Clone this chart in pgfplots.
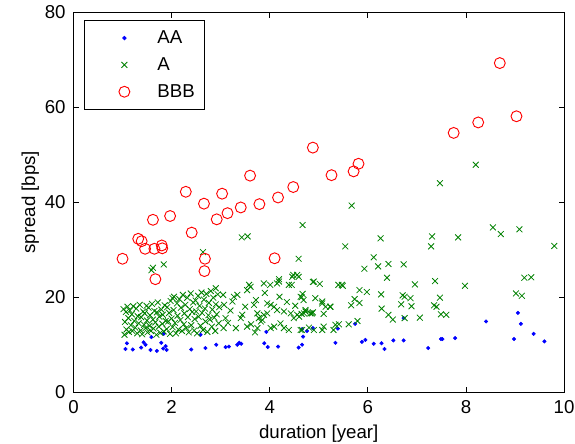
\documentclass[border=0pt]{standalone}
\usepackage{pgfplots}
\pgfplotsset{compat=1.18}
\usepackage{fontspec}
\setmainfont{Liberation Sans}
\definecolor{mgreen}{rgb}{0,0.5,0}
\begin{document}
\begin{tikzpicture}
\begin{axis}[name=ax,
  scale only axis, width=368pt, height=285pt,
  xmin=0, xmax=10, ymin=0, ymax=80,
  xtick={0,2,...,10}, ytick={0,20,...,80},
  tick align=inside, major tick length=4pt,
  axis line style={line width=0.8pt},
  every tick/.style={black, line width=0.6pt},
  /pgf/number format/assume math mode=true,
  tick label style={font=\fontsize{14}{16}\selectfont},
  label style={font=\fontsize{14}{16}\selectfont},
  xticklabel style={yshift=-2.6pt},
  yticklabel style={xshift=-2.4pt},
  xlabel={duration [year]}, ylabel={spread [bps]},
  xlabel style={yshift=-1.5pt},
  ylabel shift=-2.5pt,
  legend style={at={(0,1)}, anchor=north west, xshift=8.1pt, yshift=-5.5pt,
    draw=black, line width=0.6pt, font=\fontsize{14}{16}\selectfont,
    row sep=5pt, inner xsep=0pt, inner ysep=6pt,
    cells={anchor=west, text width=33pt}},
  legend image code/.code={\path (0pt,0pt) (52pt,0pt); \draw[#1] plot coordinates {(29.5pt,0pt)};},
]
\addplot[only marks, mark=*, blue, mark size=1.3pt] coordinates {
(1.06,9.1) (1.09,10.3) (1.21,9.0) (1.38,9.4) (1.43,10.5) (1.47,10.0) (1.57,8.9) (1.59,11.6)
(1.70,8.7) (1.79,10.4) (1.83,9.2) (1.84,12.3) (1.88,9.7) (1.90,8.9) (2.40,9.0) (2.59,12.1)
(2.69,9.3) (2.91,10.0) (3.10,9.5) (3.17,9.6) (3.34,10.0) (3.38,10.4) (3.42,10.2) (3.89,10.3)
(3.93,12.7) (3.96,9.5) (4.17,9.6) (4.59,9.4) (4.66,10.0) (4.68,11.7) (4.66,13.3) (4.76,12.9)
(4.88,13.5) (5.39,13.4) (5.74,14.4) (5.34,10.4) (5.88,10.6) (5.95,11.0) (6.12,10.2) (6.28,10.3)
(6.34,9.1) (6.52,10.9) (6.73,10.9) (6.73,15.6) (7.23,9.3) (7.49,11.2) (7.52,11.2) (7.78,11.4)
(8.41,14.9) (8.98,11.2) (9.06,16.7) (9.12,14.4) (9.38,12.3) (9.60,10.7)
};
\addlegendentry{AA}
\addplot[only marks, mark=x, mgreen, mark size=3.1pt, mark options={line width=0.6pt}] coordinates {
(1.59,25.7) (1.62,26.2) (1.84,26.9) (2.64,29.5) (3.43,32.6) (3.55,32.8) (4.19,23.8) (4.48,24.7)
(4.59,24.3) (4.59,28.1) (4.67,35.2) (5.54,30.7) (5.67,39.3) (6.26,32.4) (7.31,32.8) (7.29,30.7)
(7.47,44.0) (7.84,32.6) (8.20,47.9) (8.55,34.7) (8.71,33.3) (9.09,34.3) (9.80,30.8) (6.12,28.4)
(5.93,26.0) (6.21,26.5) (6.42,27.0) (6.73,26.9) (6.39,24.1) (4.88,23.2) (5.02,22.8) (5.49,22.4)
(6.96,22.7) (7.37,23.4) (7.98,22.4) (9.19,24.1) (9.33,24.2) (9.02,20.8) (9.14,20.3) (5.83,21.5)
(5.98,21.1) (6.27,20.6) (6.71,20.4) (6.75,20.1) (6.87,19.8) (4.67,20.7) (4.65,20.0) (4.93,19.8)
(5.07,19.1) (5.23,18.0) (5.14,18.0) (5.73,19.6) (5.66,18.3) (5.83,18.8) (6.68,18.5) (6.89,18.1)
(7.47,19.9) (7.35,18.3) (7.40,18.0) (4.73,17.3) (4.88,16.8) (4.65,16.5) (5.10,16.5) (4.60,15.9)
(6.28,17.6) (6.42,16.3) (6.51,15.3) (7.06,15.7) (7.49,16.4) (7.60,16.3) (5.79,15.0) (5.61,14.3)
(5.34,14.2) (5.41,14.3) (5.10,13.8) (6.75,15.6) (4.80,13.6) (4.90,13.1) (4.66,13.1) (5.07,13.1)
(5.30,13.1) (5.47,22.6) (5.40,22.6) (5.07,18.7) (5.24,18.0)
(3.58,22.6) (3.88,22.9) (4.01,22.6) (4.15,22.9) (4.39,22.6) (4.45,22.6) (3.34,20.5) (3.27,20.1)
(3.54,21.5) (3.61,22.2) (4.69,19.4) (3.72,19.4) (3.68,18.4) (3.95,18.7) (4.02,18.4) (4.09,18.0)
(4.15,17.3) (4.29,17.0) (4.43,16.6) (4.56,16.3) (4.70,16.6) (4.86,16.6) (4.49,15.6) (3.44,16.3)
(3.41,15.6) (3.75,16.6) (3.78,15.6) (3.82,14.9) (3.88,16.3) (3.31,13.5) (3.54,13.8) (3.75,13.5)
(4.02,13.5) (4.09,13.8) (4.29,13.5) (4.63,13.1) (3.05,20.5) (3.07,18.4) (3.10,15.6) (3.06,13.5)
(3.24,19.1) (3.85,15.2) (3.95,16.6) (4.19,23.3) (4.46,24.3) (4.56,24.7) (4.63,20.1) (4.73,17.0)
(4.83,16.6) (4.90,23.3) (4.39,13.1) (3.20,17.2) (3.50,18.0) (3.62,14.3) (3.90,20.9) (4.20,20.1)
(4.35,19.0) (4.52,18.2) (3.15,14.6) (3.70,12.6) (4.22,14.5)
(1.02,17.5) (1.04,12.1) (1.05,14.8) (1.07,16.9) (1.08,13.2) (1.10,18.0) (1.12,15.6) (1.13,12.7)
(1.15,17.2) (1.17,14.1) (1.19,16.4) (1.20,12.9) (1.22,18.1) (1.24,15.0) (1.26,13.6) (1.28,17.6)
(1.30,12.4) (1.31,16.0) (1.33,14.5) (1.35,18.4) (1.37,13.0) (1.38,15.8) (1.40,12.2) (1.42,17.0)
(1.44,14.2) (1.45,16.6) (1.47,13.5) (1.49,18.2) (1.50,15.1) (1.51,12.6)
(1.53,17.8) (1.55,14.0) (1.56,16.2) (1.58,12.9) (1.60,18.6) (1.62,15.3) (1.63,13.4) (1.65,17.1)
(1.67,14.7) (1.69,12.1) (1.70,16.8) (1.72,18.9) (1.74,13.8) (1.75,15.9) (1.77,12.5) (1.79,17.4)
(1.81,14.4) (1.82,16.3) (1.84,12.8) (1.86,18.3) (1.88,15.0) (1.90,13.3) (1.91,17.9) (1.93,14.9)
(1.95,16.7) (1.97,12.3) (1.98,19.2) (2.00,15.5)
(2.02,13.7) (2.04,17.3) (2.05,20.1) (2.07,14.6) (2.09,12.4) (2.11,18.7) (2.12,16.1) (2.14,13.2)
(2.16,19.6) (2.18,15.2) (2.19,17.8) (2.21,12.9) (2.23,20.5) (2.25,14.3) (2.26,16.6) (2.28,18.4)
(2.30,13.5) (2.32,19.9) (2.33,15.8) (2.35,12.6) (2.37,17.5) (2.39,20.8) (2.40,14.1) (2.42,16.9)
(2.44,18.9) (2.46,13.0) (2.47,15.4) (2.49,19.3) (2.50,17.0)
(2.52,12.4) (2.54,20.3) (2.55,15.9) (2.57,18.2) (2.59,14.0) (2.61,21.0) (2.62,16.7) (2.64,13.1)
(2.66,19.5) (2.68,17.6) (2.69,14.9) (2.71,20.7) (2.73,12.7) (2.75,16.2) (2.76,18.8) (2.78,15.3)
(2.80,21.3) (2.82,13.8) (2.83,17.4) (2.85,19.9) (2.87,15.7) (2.89,12.9) (2.90,18.5) (2.92,16.4)
(2.94,20.6) (2.96,14.5) (2.97,17.9) (2.90,21.9) (2.02,19.8)
};
\addlegendentry{A}
\addplot[only marks, mark=o, red, mark size=4.1pt, mark options={line width=0.7pt}] coordinates {
(1.00,28.1) (1.32,32.3) (1.39,31.8) (1.46,30.2) (1.65,30.2) (1.80,30.9) (1.81,30.3) (1.62,36.3)
(1.97,37.1) (1.67,23.8) (2.29,42.2) (2.41,33.6) (2.66,39.7) (2.68,28.1) (2.67,25.5) (2.92,36.4)
(3.03,41.8) (3.14,37.7) (3.41,38.9) (3.60,45.6) (3.79,39.6) (4.17,41.0) (4.10,28.2) (4.48,43.2)
(4.88,51.5) (5.26,45.7) (5.71,46.5) (5.81,48.1) (7.75,54.6) (8.25,56.8) (8.69,69.3) (9.03,58.1)
};
\addlegendentry{BBB}
\end{axis}
\pgfresetboundingbox
\path[use as bounding box] ([xshift=-55.1pt,yshift=-38.8pt]ax.south west) rectangle ([xshift=8.2pt,yshift=9.2pt]ax.north east);
\end{tikzpicture}
\end{document}
